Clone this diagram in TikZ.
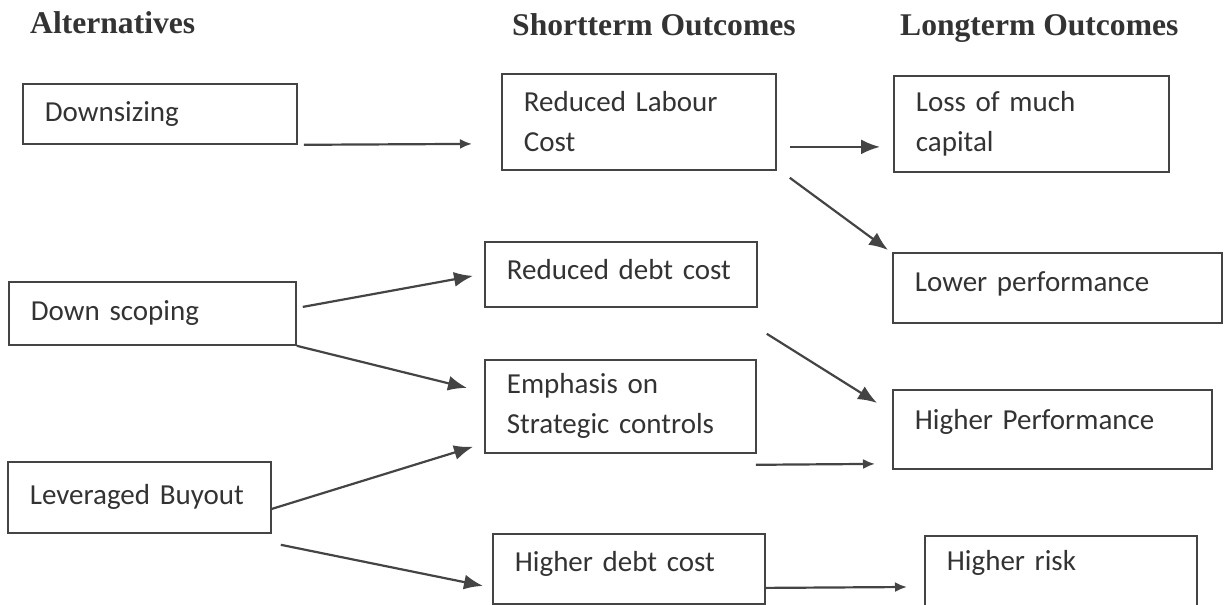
\documentclass[tikz,border=0pt]{standalone}
\usepackage{fontspec}
\setmainfont{Carlito}
\newfontfamily\headfont{Liberation Serif}
\usetikzlibrary{arrows.meta}
\definecolor{inkgray}{HTML}{333333}
\definecolor{linegray}{HTML}{444444}

\begin{document}
\begin{tikzpicture}[x=1pt, y=1pt,
	box/.style={draw=linegray, line width=1.8pt, rectangle, anchor=north west, align=left, inner xsep=22pt, inner ysep=0pt, text=inkgray, font=\fontsize{29}{40}\selectfont},
	head/.style={anchor=base west, inner sep=0pt, text=inkgray, font=\headfont\bfseries\fontsize{31.6}{36}\selectfont},
	arr/.style={draw=linegray, line width=2.2pt, -{Latex[length=19pt, width=15pt]}},
	faintarr/.style={draw=linegray, line width=2.2pt, -{Latex[length=12pt, width=10pt]}}]
	\useasboundingbox (0,0) rectangle (1224,-605);
	% column titles
	\node[head] (Alternatives) at (30,-33) {Alternatives};
	\node[head] (Shortterm) at (512,-35) {Shortterm Outcomes};
	\node[head] (Longterm) at (900,-35) {Longterm Outcomes};
	% alternatives
	\node[box, text width=230pt, minimum height=60pt] (Downsizing) at (22,-83) {Downsizing};
	\node[box, text width=243pt, minimum height=63pt] (Down scoping) at (8,-281) {Down scoping};
	\node[box, text width=219pt, minimum height=71pt] (Leveraged Buyout) at (7,-461) {Leveraged Buyout};
	% shortterm outcomes
	\node[box, text width=230pt, minimum height=96pt] (Reduced Labour) at (501,-73) {Reduced Labour\\Cost};
	\node[box, text width=228pt, minimum height=65pt, text depth=10pt] (Reduced debt) at (484,-241) {Reduced debt cost};
	\node[box, text width=227pt, minimum height=93pt] (Emphasis) at (484,-359) {Emphasis on\\Strategic controls};
	\node[box, text width=228pt, minimum height=70pt, text depth=14pt] (Higher debt) at (492,-533) {Higher debt cost};
	% longterm outcomes
	\node[box, text width=231pt, minimum height=96pt] (Loss capital) at (893,-75) {Loss of much\\capital};
	\node[box, text width=285pt, minimum height=70pt, text depth=12pt] (Lower performance) at (892,-252) {Lower performance};
	\node[box, text width=275pt, minimum height=79pt, text depth=20pt] (Higher Performance) at (892,-389) {Higher Performance};
	\node[box, text width=228pt, minimum height=80pt, text depth=30pt] (Higher risk) at (924,-535) {Higher risk};
	% connectors
	\draw[faintarr] ([xshift=6pt]Downsizing.south east) -- ([xshift=-29pt, yshift=-22pt]Reduced Labour.west);
	\draw[arr] ([xshift=13pt, yshift=-25pt]Reduced Labour.east) -- ([xshift=-13pt, yshift=-23pt]Loss capital.west);
	\draw[arr] ([xshift=13pt, yshift=-7pt]Reduced Labour.south east) -- ([xshift=-4pt, yshift=2pt]Lower performance.north west);
	\draw[arr] ([xshift=6pt, yshift=6.5pt]Down scoping.east) -- ([xshift=-11pt, yshift=-1.5pt]Reduced debt.west);
	\draw[arr] (Down scoping.south east) -- ([xshift=-17pt, yshift=18.5pt]Emphasis.west);
	\draw[arr] ([xshift=9pt, yshift=-26pt]Reduced debt.south east) -- ([xshift=-15pt, yshift=26.5pt]Higher Performance.west);
	\draw[arr] ([yshift=-11.5pt]Leveraged Buyout.east) -- ([xshift=-11pt, yshift=7pt]Emphasis.south west);
	\draw[arr] ([xshift=9pt, yshift=-11pt]Leveraged Buyout.south east) -- ([xshift=-9pt, yshift=-17pt]Higher debt.west);
	\draw[faintarr] ([xshift=-1pt, yshift=-11pt]Emphasis.south east) -- ([xshift=-17pt, yshift=-34.5pt]Higher Performance.west);
	\draw[faintarr] ([yshift=-19pt]Higher debt.east) -- ([xshift=-17pt, yshift=-52pt]Higher risk.north west);
\end{tikzpicture}
\end{document}
